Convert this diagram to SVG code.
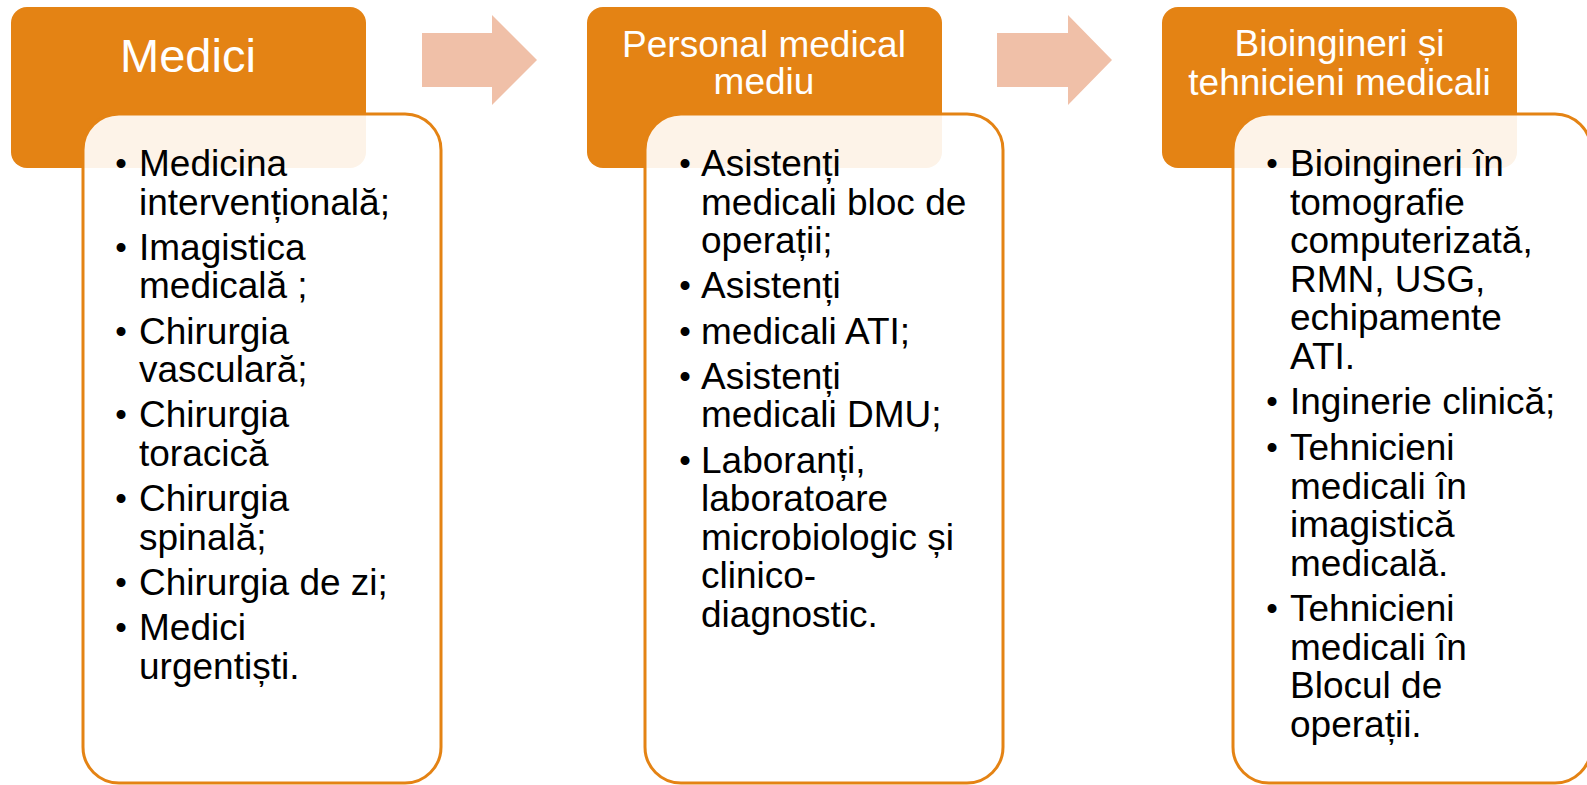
<svg xmlns="http://www.w3.org/2000/svg" width="1587" height="785" viewBox="0 0 1587 785">
<defs>
<style>
.hdr{fill:#E48314;}
.box{fill:#FFFFFF;fill-opacity:0.9;stroke:#E48314;stroke-width:3;}
.arr{fill:#F0C0A8;}
.ht{font-family:"Liberation Sans",Arial,sans-serif;font-size:37px;fill:#FFFFFF;text-anchor:middle;}
.ht1{font-family:"Liberation Sans",Arial,sans-serif;font-size:47px;fill:#FFFFFF;text-anchor:middle;}
.bt{font-family:"Liberation Sans",Arial,sans-serif;font-size:37px;fill:#000000;}
.bl{font-family:"Liberation Sans",Arial,sans-serif;font-size:33px;fill:#000000;text-anchor:middle;}
</style>
</defs>
<rect width="1587" height="785" fill="#FFFFFF"/>

<g id="connectors">
<polygon class="arr" points="422,33 492,33 492,15 537,60 492,105 492,87 422,87"/>
<polygon class="arr" points="997,33 1068,33 1068,15 1112,60 1068,105 1068,87 997,87"/>
</g>

<g id="node-medici">
<rect class="hdr" x="11" y="7" width="355" height="161" rx="16"/>
<text class="ht1" x="188" y="72">Medici</text>
<rect class="box" x="83" y="114" width="358" height="669" rx="36"/>
<g class="bl">
<text x="121" y="175">•</text>
<text x="121" y="258.8">•</text>
<text x="121" y="342.6">•</text>
<text x="121" y="426.4">•</text>
<text x="121" y="510.2">•</text>
<text x="121" y="594">•</text>
<text x="121" y="639.3">•</text>
</g>
<text class="bt">
<tspan x="139" y="176">Medicina</tspan>
<tspan x="139" y="214.5">intervențională;</tspan>
<tspan x="139" y="259.8">Imagistica</tspan>
<tspan x="139" y="298.3">medicală ;</tspan>
<tspan x="139" y="343.6">Chirurgia</tspan>
<tspan x="139" y="382.1">vasculară;</tspan>
<tspan x="139" y="427.4">Chirurgia</tspan>
<tspan x="139" y="465.9">toracică</tspan>
<tspan x="139" y="511.2">Chirurgia</tspan>
<tspan x="139" y="549.7">spinală;</tspan>
<tspan x="139" y="595">Chirurgia de zi;</tspan>
<tspan x="139" y="640.3">Medici</tspan>
<tspan x="139" y="678.8">urgentiști.</tspan>
</text>
</g>

<g id="node-personal">
<rect class="hdr" x="587" y="7" width="355" height="161" rx="16"/>
<text class="ht"><tspan x="764" y="57">Personal medical</tspan><tspan x="764" y="94">mediu</tspan></text>
<rect class="box" x="645" y="114" width="358" height="669" rx="36"/>
<g class="bl">
<text x="685" y="175">•</text>
<text x="685" y="297.3">•</text>
<text x="685" y="342.6">•</text>
<text x="685" y="387.9">•</text>
<text x="685" y="471.7">•</text>
</g>
<text class="bt">
<tspan x="701" y="176">Asistenți</tspan>
<tspan x="701" y="214.5">medicali bloc de</tspan>
<tspan x="701" y="253">operații;</tspan>
<tspan x="701" y="298.3">Asistenți</tspan>
<tspan x="701" y="343.6">medicali ATI;</tspan>
<tspan x="701" y="388.9">Asistenți</tspan>
<tspan x="701" y="427.4">medicali DMU;</tspan>
<tspan x="701" y="472.7">Laboranți,</tspan>
<tspan x="701" y="511.2">laboratoare</tspan>
<tspan x="701" y="549.7">microbiologic și</tspan>
<tspan x="701" y="588.2">clinico-</tspan>
<tspan x="701" y="626.7">diagnostic.</tspan>
</text>
</g>

<g id="node-bioingineri">
<rect class="hdr" x="1162" y="7" width="355" height="161" rx="16"/>
<text class="ht"><tspan x="1339.5" y="56">Bioingineri și</tspan><tspan x="1339.5" y="95">tehnicieni medicali</tspan></text>
<rect class="box" x="1233" y="114" width="358" height="669" rx="36"/>
<g class="bl">
<text x="1272" y="175">•</text>
<text x="1272" y="413.3">•</text>
<text x="1272" y="459.1">•</text>
<text x="1272" y="620.4">•</text>
</g>
<text class="bt">
<tspan x="1290" y="176">Bioingineri în</tspan>
<tspan x="1290" y="214.5">tomografie</tspan>
<tspan x="1290" y="253">computerizată,</tspan>
<tspan x="1290" y="291.5">RMN, USG,</tspan>
<tspan x="1290" y="330">echipamente</tspan>
<tspan x="1290" y="368.5">ATI.</tspan>
<tspan x="1290" y="414.3">Inginerie clinică;</tspan>
<tspan x="1290" y="460.1">Tehnicieni</tspan>
<tspan x="1290" y="498.6">medicali în</tspan>
<tspan x="1290" y="537.1">imagistică</tspan>
<tspan x="1290" y="575.6">medicală.</tspan>
<tspan x="1290" y="621.4">Tehnicieni</tspan>
<tspan x="1290" y="659.9">medicali în</tspan>
<tspan x="1290" y="698.4">Blocul de</tspan>
<tspan x="1290" y="736.9">operații.</tspan>
</text>
</g>
</svg>
